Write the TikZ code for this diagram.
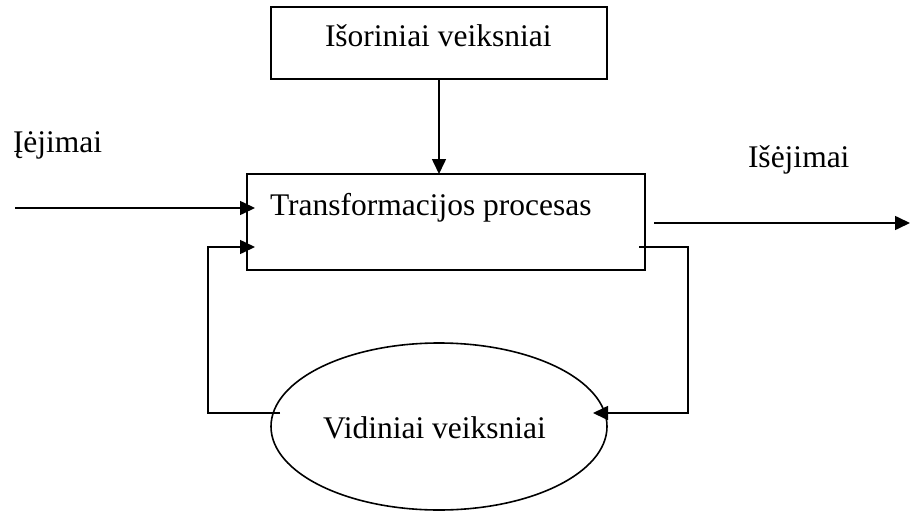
\documentclass[tikz,border=0pt]{standalone}
\usepackage{fontspec}
\setmainfont{Liberation Serif}
\usetikzlibrary{arrows.meta,shapes.geometric}
\begin{document}
\begin{tikzpicture}[x=1pt,y=-1pt,
  every node/.style={inner sep=0pt,outer sep=0pt},
  lbl/.style={anchor=base west,font=\fontsize{31.5}{36}\selectfont},
  boxed/.style={draw,line width=1.8pt,rectangle},
  conn/.style={line width=1.6pt},
  arr/.style={conn,-{Triangle[length=15pt,width=14pt]}}]
\useasboundingbox (0,0) rectangle (910,511);

% blocks
\node[boxed,minimum width=336pt,minimum height=72pt] (ext) at (439,43) {};
\node[lbl] (extT) at (325,47) {Išoriniai veiksniai};
\node[boxed,minimum width=398pt,minimum height=96pt] (proc) at (446,222) {};
\node[lbl] (procT) at (270,215) {Transformacijos procesas};
\node[draw,ellipse,line width=1.6pt,minimum width=336pt,minimum height=167pt] (int) at (439,426.5) {};
\node[lbl] (intT) at (323,438) {Vidiniai veiksniai};

% side labels
\node[lbl] (inL) at (13,152) {Įėjimai};
\node[lbl] (outL) at (748,167) {Išėjimai};

% connector end points
\coordinate (inS) at (15,208);
\coordinate (inE) at (255,208);
\coordinate (outS) at (654,223);
\coordinate (outE) at (910,223);
\coordinate (rS) at (639,247);
\coordinate (rC1) at (688,247);
\coordinate (rC2) at (688,413);
\coordinate (rE) at (593,413);
\coordinate (lS) at (280,413);
\coordinate (lC1) at (208,413);
\coordinate (lC2) at (208,247);
\coordinate (lE) at (255,247);

% connectors
\draw[arr] (ext.south) -- (ext.south |- proc.north);
\draw[arr] (inS) -- (inE);
\draw[arr] (outS) -- (outE);
\draw[arr] (rS) -- (rC1) -- (rC2) -- (rE);
\draw[arr] (lS) -- (lC1) -- (lC2) -- (lE);
\end{tikzpicture}
\end{document}
